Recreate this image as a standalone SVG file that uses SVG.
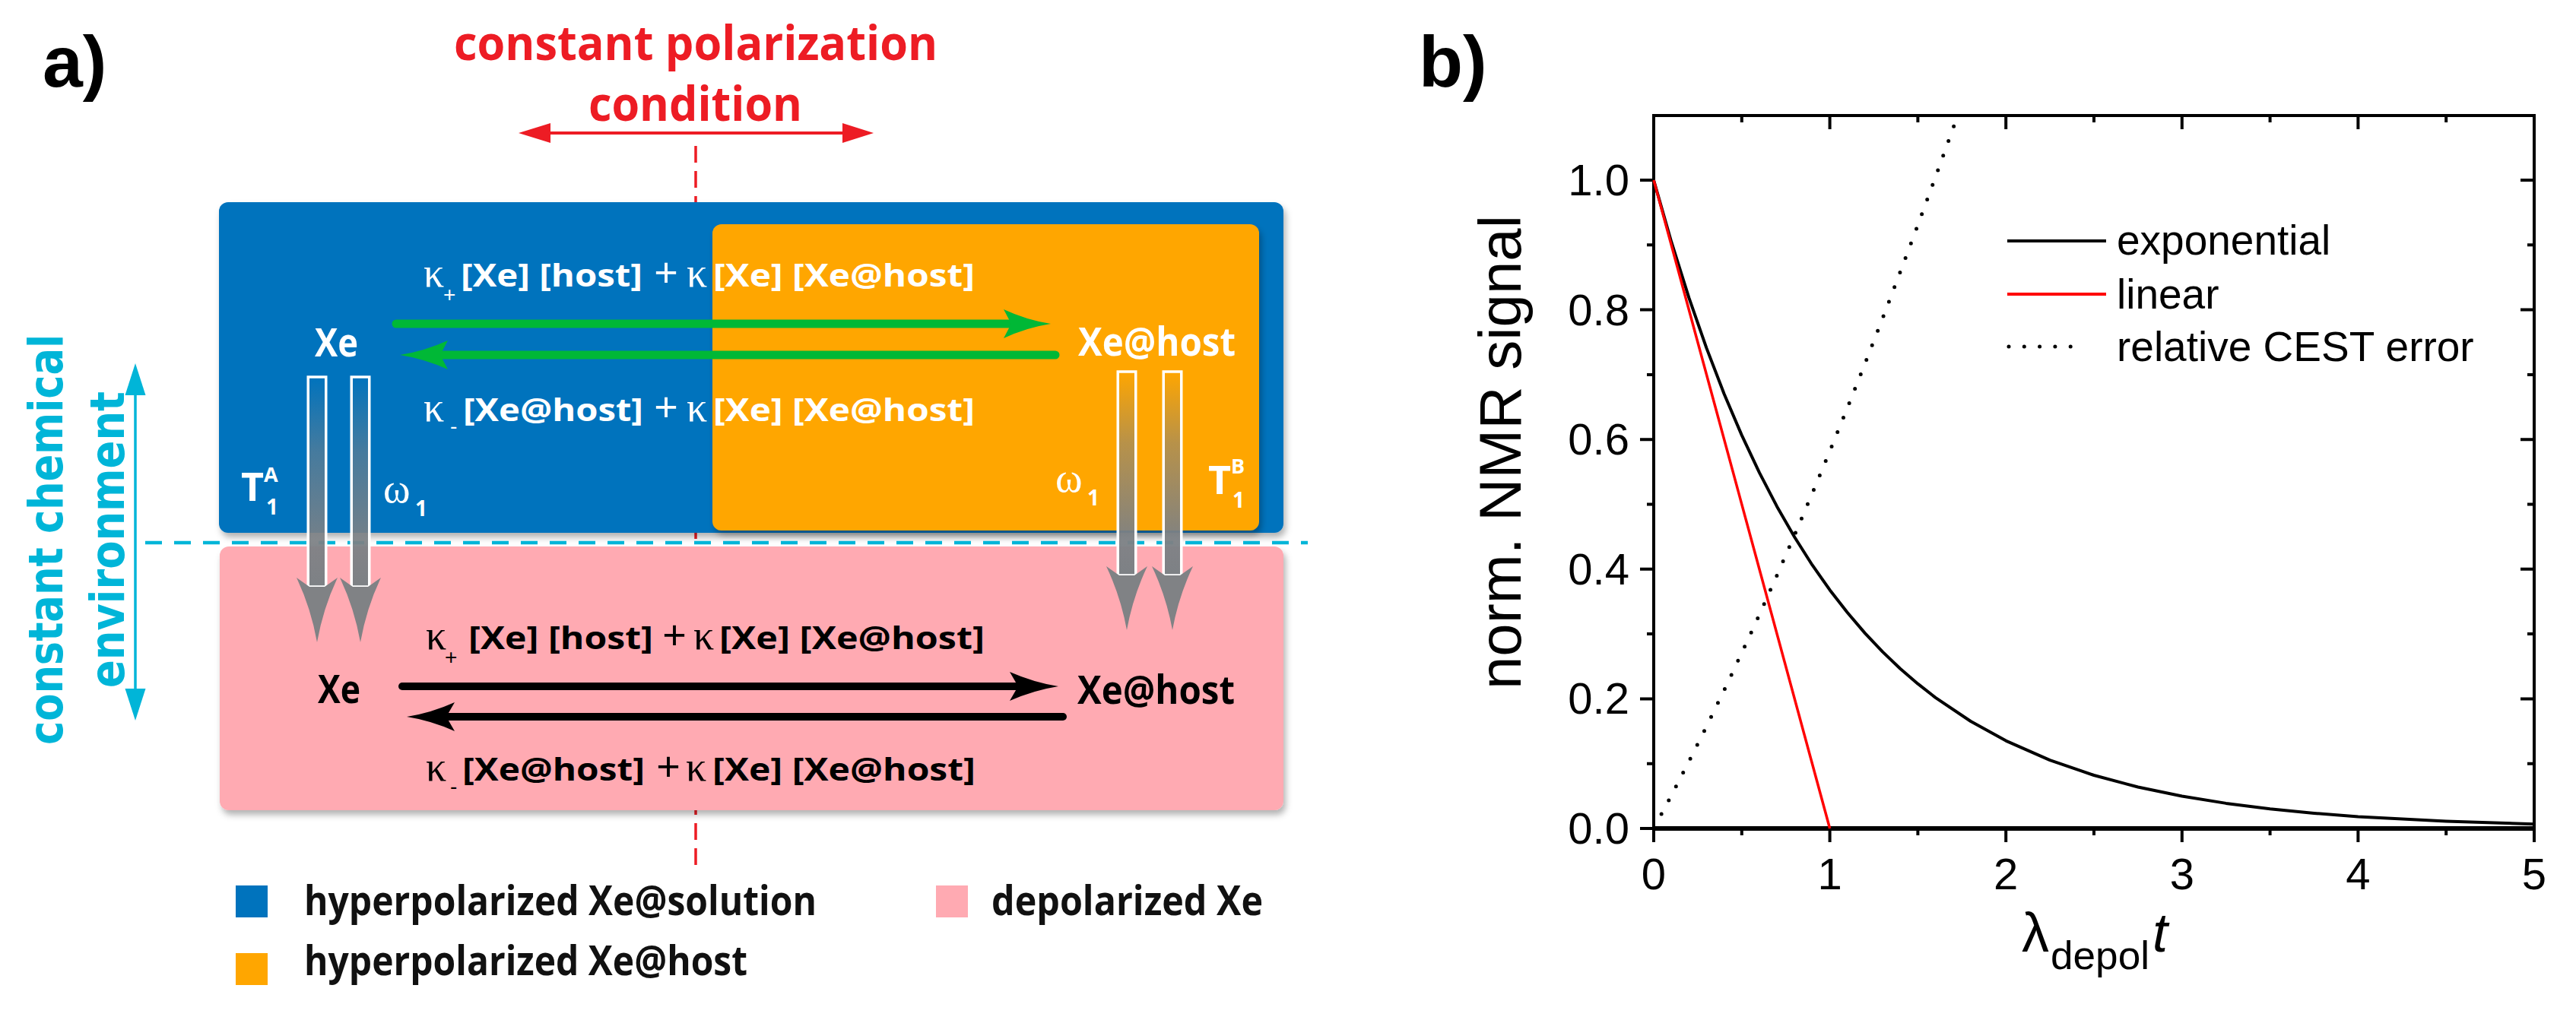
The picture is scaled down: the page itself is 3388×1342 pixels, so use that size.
<svg xmlns="http://www.w3.org/2000/svg" width="3388" height="1342" viewBox="0 0 3388 1342">
<defs>
<style>
.bold{font-family:"Open Sans","Liberation Sans",sans-serif;font-weight:700}
.kap{font-family:"Liberation Serif","DejaVu Serif",serif;font-size:54px}
.sub{font-family:"Liberation Sans",sans-serif;font-size:28px}
.plus{font-family:"Liberation Sans",sans-serif;font-size:54px;text-anchor:middle}
.form{font-family:"Open Sans","Liberation Sans",sans-serif;font-weight:700;font-size:41px}
.w{fill:#ffffff}
.k{fill:#000000}
.ax{font-family:"Liberation Sans",Arial,sans-serif;font-size:58px;fill:#000}
.leg{font-family:"Liberation Sans",Arial,sans-serif;font-size:55px;fill:#000}
.legb{font-family:"Open Sans","Liberation Sans",sans-serif;font-weight:700;font-size:53px;fill:#111}
.stem{fill:url(#stemGrad);stroke:#ffffff;stroke-width:3.5}
.head{fill:#808285}
</style>
<linearGradient id="stemGrad" x1="0" y1="0" x2="0" y2="1">
<stop offset="0" stop-color="#7d8185" stop-opacity="0"/>
<stop offset="0.35" stop-color="#7d8185" stop-opacity="0.55"/>
<stop offset="0.8" stop-color="#7d8185" stop-opacity="0.95"/>
<stop offset="1" stop-color="#7d8185" stop-opacity="1"/>
</linearGradient>
<filter id="shadow" x="-5%" y="-5%" width="110%" height="115%">
<feDropShadow dx="3" dy="6" stdDeviation="4" flood-color="#000" flood-opacity="0.3"/>
</filter>
</defs>
<rect width="3388" height="1342" fill="#ffffff"/>

<!-- panel labels -->
<g id="label-a"><text x="56" y="114" font-family="Liberation Sans,Arial,sans-serif" font-weight="700" font-size="95">a)</text></g>
<g id="label-b"><text x="1866" y="114" font-family="Liberation Sans,Arial,sans-serif" font-weight="700" font-size="95">b)</text></g>

<!-- title -->
<g id="title-polarization" fill="#ed1c24">
<text x="597" y="79" class="bold" font-size="63" textLength="636" lengthAdjust="spacingAndGlyphs">constant polarization</text>
<text x="774" y="159" class="bold" font-size="63" textLength="281" lengthAdjust="spacingAndGlyphs">condition</text>
</g>

<!-- red dashed center line (behind boxes) -->
<path d="M915,192 L915,1140" stroke="#ed1c24" stroke-width="3.5" stroke-dasharray="22 11" fill="none"/>

<!-- boxes -->
<g id="box-hyper-solution"><rect x="288" y="266" width="1400" height="435" rx="12" fill="#0073bd" filter="url(#shadow)"/></g>
<g id="box-hyper-host"><rect x="937" y="295" width="719" height="403" rx="12" fill="#ffa600" filter="url(#shadow)"/></g>
<g id="box-depolarized"><rect x="289" y="719" width="1399" height="347" rx="12" fill="#ffaab2" filter="url(#shadow)"/></g>

<!-- cyan environment marker -->
<g id="env-marker">
<path d="M191,714 L1720,714" stroke="#00b5d8" stroke-width="4.5" stroke-dasharray="22 16" fill="none"/>
<path d="M178,515 L178,911" stroke="#00b5d8" stroke-width="3.5"/>
<polygon points="178,478 164.5,520 191.5,520" fill="#00b5d8"/>
<polygon points="178,948 164.5,906 191.5,906" fill="#00b5d8"/>
<text transform="translate(82,710) rotate(-90)" text-anchor="middle" font-family="DejaVu Sans,Verdana,sans-serif" font-weight="700" font-size="62" fill="#00b5d8" textLength="540" lengthAdjust="spacingAndGlyphs">constant chemical</text>
<text transform="translate(163,710) rotate(-90)" text-anchor="middle" font-family="DejaVu Sans,Verdana,sans-serif" font-weight="700" font-size="62" fill="#00b5d8" textLength="390" lengthAdjust="spacingAndGlyphs">environment</text>
</g>

<!-- node labels -->
<g id="node-xe-hyper"><text x="414" y="469" class="bold w" font-size="52" textLength="57" lengthAdjust="spacingAndGlyphs">Xe</text></g>
<g id="node-xehost-hyper"><text x="1418" y="468" class="bold w" font-size="52" textLength="207" lengthAdjust="spacingAndGlyphs">Xe@host</text></g>
<g id="node-xe-depol"><text x="418" y="925" class="bold k" font-size="52" textLength="56" lengthAdjust="spacingAndGlyphs">Xe</text></g>
<g id="node-xehost-depol"><text x="1417" y="926" class="bold k" font-size="52" textLength="207" lengthAdjust="spacingAndGlyphs">Xe@host</text></g>

<!-- relaxation labels -->
<g id="label-T1A" fill="#fff">
<text x="317" y="659" class="bold" font-size="52">T</text>
<text x="347" y="634" class="bold" font-size="27">A</text>
<text x="350" y="677" class="bold" font-size="28">1</text>
</g>
<g id="label-w1-left" fill="#fff">
<text x="504" y="661" font-family="Liberation Serif,serif" font-size="54">ω</text>
<text x="546" y="679" class="bold" font-size="28">1</text>
</g>
<g id="label-w1-right" fill="#fff">
<text x="1388" y="647" font-family="Liberation Serif,serif" font-size="54">ω</text>
<text x="1430" y="665" class="bold" font-size="28">1</text>
</g>
<g id="label-T1B" fill="#fff">
<text x="1589" y="650" class="bold" font-size="52">T</text>
<text x="1619" y="623" class="bold" font-size="27">B</text>
<text x="1621" y="668" class="bold" font-size="28">1</text>
</g>

<!-- rate formulas -->
<g id="rates-hyper" fill="#fff">
<text x="557" y="377" class="kap">κ</text>
<text x="583" y="397" class="sub">+</text>
<text x="606" y="377" class="form" textLength="239" lengthAdjust="spacingAndGlyphs">[Xe] [host]</text>
<text x="876" y="377" class="plus">+</text>
<text x="903" y="377" class="kap">κ</text>
<text x="938" y="377" class="form" textLength="344" lengthAdjust="spacingAndGlyphs">[Xe] [Xe@host]</text>
<text x="557" y="554" class="kap">κ</text>
<text x="592" y="570" class="sub">-</text>
<text x="609" y="554" class="form" textLength="237" lengthAdjust="spacingAndGlyphs">[Xe@host]</text>
<text x="876" y="554" class="plus">+</text>
<text x="903" y="554" class="kap">κ</text>
<text x="938" y="554" class="form" textLength="344" lengthAdjust="spacingAndGlyphs">[Xe] [Xe@host]</text>
</g>
<g id="rates-depol" fill="#000">
<text x="560" y="854" class="kap">κ</text>
<text x="585" y="874" class="sub">+</text>
<text x="616" y="854" class="form" textLength="243" lengthAdjust="spacingAndGlyphs">[Xe] [host]</text>
<text x="887" y="854" class="plus">+</text>
<text x="912" y="854" class="kap">κ</text>
<text x="946" y="854" class="form" textLength="349" lengthAdjust="spacingAndGlyphs">[Xe] [Xe@host]</text>
<text x="560" y="1027" class="kap">κ</text>
<text x="592" y="1044" class="sub">-</text>
<text x="608" y="1027" class="form" textLength="240" lengthAdjust="spacingAndGlyphs">[Xe@host]</text>
<text x="879" y="1027" class="plus">+</text>
<text x="902" y="1027" class="kap">κ</text>
<text x="937" y="1027" class="form" textLength="346" lengthAdjust="spacingAndGlyphs">[Xe] [Xe@host]</text>
</g>

<!-- connectors -->
<g id="connectors">
<path d="M720,175 L1112,175" stroke="#ed1c24" stroke-width="4"/>
<polygon points="682,175 724,162 724,188" fill="#ed1c24"/>
<polygon points="1149,175 1108,162 1108,188" fill="#ed1c24"/>
<path d="M521,426 L1334,426" stroke="#00b836" stroke-width="11" stroke-linecap="round"/>
<path d="M1382,426 Q1350,431 1320,445 L1330,426 L1320,407 Q1350,421 1382,426 Z" fill="#00b836"/>
<path d="M1388,467 L576,467" stroke="#00b836" stroke-width="11" stroke-linecap="round"/>
<path d="M526,467 Q558,462 589,448 L579,467 L589,486 Q558,472 526,467 Z" fill="#00b836"/>
<path d="M529,903 L1338,903" stroke="#000" stroke-width="10" stroke-linecap="round"/>
<path d="M1392,903 Q1360,908 1328,922 L1339,903 L1328,884 Q1360,898 1392,903 Z" fill="#000"/>
<path d="M1398,943 L588,943" stroke="#000" stroke-width="10" stroke-linecap="round"/>
<path d="M535,943 Q567,938 598,924 L587,943 L598,962 Q567,948 535,943 Z" fill="#000"/>
<rect x="405.25" y="496" width="23.5" height="276" class="stem"/>
<path d="M390,760 L407,772 L427,772 L444,760 Q425,800 417,845 Q409,800 390,760 Z" class="head"/>
<rect x="462.25" y="496" width="23.5" height="276" class="stem"/>
<path d="M447,760 L464,772 L484,772 L501,760 Q482,800 474,845 Q466,800 447,760 Z" class="head"/>
<rect x="1470.25" y="489" width="23.5" height="268" class="stem"/>
<path d="M1455,745 L1472,757 L1492,757 L1509,745 Q1490,785 1482,829 Q1474,785 1455,745 Z" class="head"/>
<rect x="1530.25" y="489" width="23.5" height="268" class="stem"/>
<path d="M1515,745 L1532,757 L1552,757 L1569,745 Q1550,785 1542,829 Q1534,785 1515,745 Z" class="head"/>
</g>

<!-- legend -->
<g id="legend-left">
<rect x="310" y="1165" width="42" height="42" fill="#0073bd"/>
<text x="400" y="1204" class="legb" textLength="674" lengthAdjust="spacingAndGlyphs">hyperpolarized Xe@solution</text>
<rect x="310" y="1254" width="42" height="42" fill="#ffa600"/>
<text x="400" y="1283" class="legb" textLength="583" lengthAdjust="spacingAndGlyphs">hyperpolarized Xe@host</text>
<rect x="1231" y="1165" width="42" height="42" fill="#ffaab2"/>
<text x="1304" y="1204" class="legb" textLength="357" lengthAdjust="spacingAndGlyphs">depolarized Xe</text>
</g>

<!-- plot b -->
<g id="plot">
<rect x="2175" y="152" width="1158" height="938" fill="none" stroke="#000" stroke-width="4"/>
<path d="M2173,1090 L3335,1090" stroke="#000" stroke-width="6"/>
<path fill="none" stroke="#000" stroke-width="4" d="M2175,1090v18 M2406.6,1090v18 M2638.2,1090v18 M2869.8,1090v18 M3101.4,1090v18 M3333,1090v18 M2290.8,1090v9 M2522.4,1090v9 M2754,1090v9 M2985.6,1090v9 M3217.2,1090v9 M2406.6,152v18 M2638.2,152v18 M2869.8,152v18 M3101.4,152v18 M2290.8,152v9 M2522.4,152v9 M2754,152v9 M2985.6,152v9 M3217.2,152v9 M2157,1090h18 M2157,919.4h18 M2157,748.8h18 M2157,578.2h18 M2157,407.6h18 M2157,237h18 M2166,1004.7h9 M2166,834.1h9 M2166,663.5h9 M2166,492.9h9 M2166,322.3h9 M3315,919.4h18 M3315,748.8h18 M3315,578.2h18 M3315,407.6h18 M3315,237h18 M3324,1004.7h9 M3324,834.1h9 M3324,663.5h9 M3324,492.9h9 M3324,322.3h9"/>
<g class="ax" text-anchor="end">
<text x="2143" y="1110">0.0</text>
<text x="2143" y="939">0.2</text>
<text x="2143" y="769">0.4</text>
<text x="2143" y="598">0.6</text>
<text x="2143" y="428">0.8</text>
<text x="2143" y="257">1.0</text>
</g>
<g class="ax" text-anchor="middle">
<text x="2175" y="1170">0</text>
<text x="2406.6" y="1170">1</text>
<text x="2638.2" y="1170">2</text>
<text x="2869.8" y="1170">3</text>
<text x="3101.4" y="1170">4</text>
<text x="3333" y="1170">5</text>
</g>
<text transform="translate(2000,595) rotate(-90)" text-anchor="middle" font-family="Liberation Sans,Arial,sans-serif" font-size="78">norm. NMR signal</text>
<g font-family="Liberation Sans,Arial,sans-serif">
<text x="2659" y="1252" font-size="72">λ</text>
<text x="2697" y="1275" font-size="52" textLength="130" lengthAdjust="spacingAndGlyphs">depol</text>
<text x="2831" y="1252" font-size="72" font-style="italic">t</text>
</g>
<polyline fill="none" stroke="#000" stroke-width="4" stroke-linejoin="round" points="2175,237 2198.2,318.2 2221.3,391.6 2244.5,458.1 2267.6,518.2 2290.8,572.6 2314,621.9 2337.1,666.4 2360.3,706.7 2383.4,743.2 2406.6,776.2 2429.8,806 2452.9,833.1 2476.1,857.6 2499.2,879.7 2522.4,899.7 2545.6,917.8 2591.9,949 2638.2,974.6 2696.1,1000.1 2754,1020 2811.9,1035.5 2869.8,1047.5 2927.7,1056.9 2985.6,1064.2 3043.5,1069.9 3101.4,1074.4 3217.2,1080.5 3333,1084.3"/>
<path d="M2175,237 L2406.6,1090" stroke="#ff0000" stroke-width="3.5" fill="none"/>
<polyline fill="none" stroke="#000" stroke-width="5" stroke-linecap="round" stroke-dasharray="0 20.5" stroke-dashoffset="-1" points="2175,1090 2198.2,1046.6 2221.3,1001.9 2244.5,955.7 2267.6,908.1 2290.8,859 2314,808.7 2337.1,756.9 2360.3,703.8 2383.4,649.3 2406.6,593.6 2429.8,536.5 2452.9,478.2 2476.1,418.7 2499.2,357.9 2522.4,296 2545.6,232.9 2568.7,168.8 2573.8,154.5"/>
<path d="M2640,317 H2770" stroke="#000" stroke-width="4"/>
<path d="M2640,387 H2770" stroke="#ff0000" stroke-width="4"/>
<path d="M2642,456 H2725" stroke="#000" stroke-width="5" stroke-linecap="round" stroke-dasharray="0 20.3"/>
<text x="2784" y="335" class="leg">exponential</text>
<text x="2784" y="406" class="leg">linear</text>
<text x="2784" y="475" class="leg">relative CEST error</text>
</g>
</svg>
